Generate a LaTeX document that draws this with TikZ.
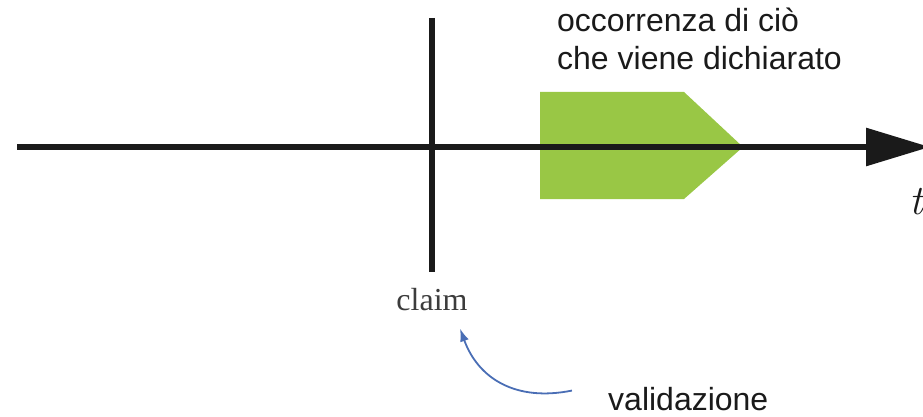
\documentclass[tikz,border=0pt]{standalone}
\usepackage{fontspec}
\newfontfamily\arialf{Liberation Sans}
\newfontfamily\timesf{Liberation Serif}
\usetikzlibrary{arrows.meta}
\definecolor{axisblack}{RGB}{26,26,26}
\definecolor{leafgreen}{RGB}{153,199,69}
\definecolor{arrowblue}{RGB}{74,110,181}
\tikzset{
  axisline/.style={draw=axisblack, line width=6pt},
  sanslabel/.style={font=\arialf\fontsize{32}{38}\selectfont, inner sep=0pt, anchor=base west, text=axisblack},
  bluearrow/.style={draw=arrowblue, line width=1.8pt, -{Latex[length=13pt,width=9pt]}},
}
\begin{document}
\begin{tikzpicture}[x=1pt,y=-1pt]
\useasboundingbox (0,0) rectangle (923,417);
% green occurrence shape
\fill[leafgreen] (540,92) -- (684,92) -- (743,147) -- (684,199) -- (540,199) -- cycle;
% time axis
\coordinate (axL) at (17,147);
\coordinate (axR) at (930,147);
\draw[axisline, -{Triangle[length=64pt,width=37pt]}] (axL) -- (axR);
% claim marker
\coordinate (vT) at (432,18);
\coordinate (vB) at (432,272);
\draw[axisline] (vT) -- (vB);
% labels
\node[sanslabel] (occ1) at (557,32) {occorrenza di ciò};
\node[sanslabel] (occ2) at (557,70) {che viene dichiarato};
\node[inner sep=0pt, anchor=base, font=\timesf\fontsize{32}{36}\selectfont, text=axisblack!85] (claim) at (432,310) {claim};
\node[inner sep=0pt, anchor=base west, font=\fontsize{42}{46}\selectfont\itshape, text=axisblack] (tlab) at (909,214) {t};
\node[sanslabel] (valid) at (608,410) {validazione};
% validation arrow
\draw[bluearrow] ([xshift=-36pt,yshift=8pt]valid.west) .. controls (515,402) and (478,378) .. ([xshift=28pt,yshift=-18pt]claim.south);
\end{tikzpicture}
\end{document}
